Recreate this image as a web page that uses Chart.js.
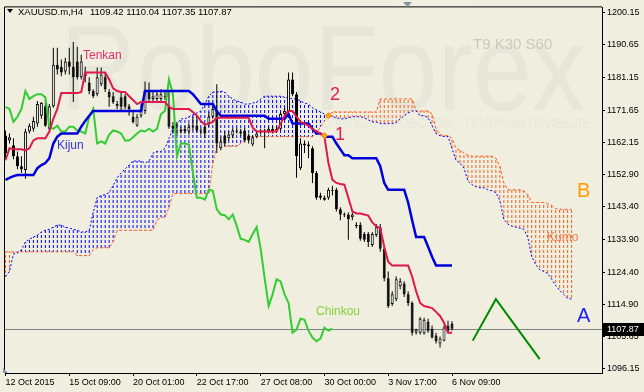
<!DOCTYPE html>
<html>
<head>
<meta charset="utf-8">
<script src="https://cdn.jsdelivr.net/npm/chart.js@4.4.1/dist/chart.umd.min.js"></script>
<style>
html, body { margin: 0; padding: 0; background: #efeedf; }
#wrap { width: 644px; height: 392px; }
</style>
</head>
<body>
<div id="wrap"><canvas id="chart" width="644" height="392"></canvas></div>
<script>
// XAUUSD.m H4, Ichimoku T9 K30 S60
const xTickBars = [0, 16, 32, 48, 64, 80, 96, 112];
const xTickLabels = ['12 Oct 2015', '15 Oct 09:00', '20 Oct 01:00', '22 Oct 17:00', '27 Oct 08:00', '30 Oct 00:00', '3 Nov 17:00', '6 Nov 09:00'];
const yTicks = [1200.15, 1190.65, 1181.15, 1171.65, 1162.15, 1152.90, 1143.40, 1133.90, 1124.40, 1114.90, 1105.65, 1096.15];
const lastPrice = 1107.87;

const opens = [
    1164.2, 1162.8, 1161.4, 1158.2, 1155.3, 1154.2, 1165.4, 1166.2, 1167.7, 1170.0,
    1172.8, 1166.2, 1172.8, 1184.9, 1184.3, 1182.9, 1185.8, 1184.3, 1185.8, 1181.2,
    1182.6, 1179.7, 1177.2, 1176.3, 1179.2, 1181.2, 1176.9, 1175.7, 1172.8, 1175.4,
    1175.7, 1172.8, 1169.7, 1167.1, 1170.0, 1171.4, 1177.2, 1174.9, 1174.9, 1174.9,
    1175.7, 1172.6, 1167.1, 1167.4, 1166.0, 1166.2, 1165.4, 1167.1, 1167.1, 1165.7,
    1166.8, 1167.7, 1169.7, 1171.4, 1160.5, 1164.2, 1163.4, 1164.2, 1165.7, 1165.4,
    1165.7, 1164.2, 1161.6, 1163.9, 1165.1, 1165.7, 1165.4, 1166.2, 1165.7, 1166.2,
    1170.5, 1171.1, 1180.6, 1176.3, 1154.7, 1161.4, 1161.1, 1160.5, 1153.3, 1146.7,
    1146.1, 1146.1, 1148.4, 1148.4, 1142.7, 1141.2, 1141.2, 1140.4, 1138.1, 1138.1,
    1135.5, 1135.5, 1132.3, 1135.2, 1137.5, 1131.2, 1122.6, 1115.1, 1116.5, 1120.3,
    1121.1, 1117.9, 1115.4, 1106.7, 1106.7, 1106.5, 1109.9, 1107.9, 1105.9, 1103.6,
    1104.4, 1108.8, 1109.42
];
const highs = [
    1165.7, 1164.8, 1163.4, 1159.6, 1158.2, 1166.2, 1167.7, 1169.7, 1174.3, 1174.0,
    1175.7, 1173.4, 1189.8, 1189.8, 1186.4, 1186.9, 1189.8, 1191.5, 1190.1, 1187.8,
    1184.3, 1181.2, 1177.7, 1184.1, 1184.1, 1182.6, 1177.7, 1176.9, 1174.3, 1176.9,
    1176.3, 1173.4, 1171.1, 1170.5, 1173.4, 1180.0, 1179.7, 1176.9, 1177.2, 1177.7,
    1176.9, 1176.9, 1168.2, 1168.2, 1166.8, 1167.1, 1167.7, 1169.7, 1170.0, 1166.5,
    1167.7, 1171.1, 1172.8, 1179.2, 1163.7, 1165.4, 1165.4, 1166.5, 1166.5, 1166.2,
    1166.5, 1164.8, 1164.2, 1165.4, 1166.2, 1166.2, 1166.8, 1167.1, 1166.8, 1171.1,
    1172.3, 1182.6, 1182.6, 1176.9, 1163.4, 1162.8, 1162.5, 1161.1, 1153.9, 1147.5,
    1146.7, 1149.0, 1149.6, 1149.0, 1143.3, 1141.8, 1141.8, 1141.8, 1138.9, 1138.9,
    1136.1, 1136.1, 1136.1, 1138.4, 1138.4, 1131.7, 1124.6, 1118.8, 1123.1, 1122.6,
    1121.7, 1118.8, 1115.9, 1107.9, 1111.3, 1111.1, 1110.8, 1108.8, 1106.7, 1105.6,
    1108.8, 1110.2, 1110.04
];
const lows = [
    1157.6, 1161.9, 1157.3, 1154.4, 1153.3, 1151.6, 1164.8, 1165.4, 1166.8, 1169.1,
    1166.8, 1165.7, 1172.3, 1182.0, 1181.5, 1182.0, 1182.0, 1174.0, 1180.6, 1180.6,
    1179.7, 1176.3, 1175.2, 1175.7, 1178.6, 1176.9, 1172.6, 1173.4, 1172.0, 1171.7,
    1172.0, 1170.0, 1167.7, 1166.8, 1169.4, 1170.5, 1174.3, 1174.3, 1174.3, 1174.0,
    1174.6, 1166.2, 1164.8, 1164.2, 1164.8, 1164.8, 1164.5, 1165.7, 1165.1, 1164.5,
    1163.4, 1166.8, 1169.1, 1159.1, 1159.9, 1161.1, 1162.8, 1163.4, 1164.8, 1164.2,
    1162.2, 1161.9, 1161.1, 1163.4, 1164.5, 1160.5, 1164.8, 1164.8, 1165.1, 1165.7,
    1170.0, 1170.5, 1175.7, 1151.9, 1154.2, 1159.1, 1157.6, 1150.4, 1145.5, 1145.5,
    1145.2, 1145.5, 1146.7, 1142.1, 1139.5, 1140.4, 1133.8, 1139.5, 1137.2, 1133.5,
    1133.2, 1131.7, 1131.7, 1134.6, 1130.3, 1121.7, 1113.9, 1114.5, 1115.9, 1119.4,
    1117.1, 1114.5, 1105.9, 1106.2, 1106.2, 1106.2, 1106.7, 1105.0, 1103.6, 1102.4,
    1104.2, 1106.7, 1107.35
];
const closes = [
    1159.1, 1163.7, 1158.2, 1155.3, 1154.4, 1165.4, 1167.1, 1168.5, 1173.4, 1173.7,
    1167.1, 1172.8, 1184.9, 1183.5, 1182.6, 1185.8, 1184.3, 1181.2, 1181.2, 1185.8,
    1181.5, 1177.2, 1175.7, 1181.2, 1182.0, 1177.7, 1175.4, 1174.0, 1173.4, 1172.6,
    1172.6, 1172.0, 1168.2, 1169.7, 1172.0, 1177.2, 1174.9, 1175.7, 1176.3, 1176.3,
    1175.4, 1166.8, 1166.2, 1167.1, 1165.4, 1165.4, 1166.8, 1166.8, 1165.7, 1165.4,
    1164.8, 1169.7, 1172.0, 1161.9, 1162.5, 1161.9, 1164.5, 1165.7, 1165.4, 1164.8,
    1162.8, 1162.8, 1163.7, 1164.8, 1165.7, 1165.4, 1166.2, 1165.4, 1166.2, 1170.5,
    1171.4, 1180.6, 1176.3, 1158.2, 1161.9, 1161.9, 1161.6, 1153.3, 1146.1, 1146.1,
    1145.5, 1148.4, 1148.1, 1142.7, 1141.2, 1141.0, 1139.8, 1141.2, 1137.8, 1134.1,
    1133.8, 1133.2, 1135.5, 1137.5, 1131.2, 1122.6, 1114.5, 1117.9, 1122.3, 1121.7,
    1117.9, 1115.4, 1106.7, 1107.6, 1110.8, 1110.5, 1107.3, 1105.3, 1104.2, 1105.0,
    1108.2, 1107.3, 1107.87
];

const tenkan = [
    1157.0, 1160.5, 1160.2, 1160.2, 1160.2, 1159.9, 1160.5, 1162.8, 1163.4, 1163.4,
    1163.4, 1165.4, 1169.1, 1172.0, 1176.6, 1176.6, 1176.6, 1176.6, 1176.6, 1176.9,
    1182.6, 1182.6, 1182.6, 1182.6, 1182.6, 1182.6, 1180.6, 1178.0, 1177.2, 1176.9,
    1176.9, 1175.7, 1174.6, 1173.4, 1174.0, 1174.0, 1174.0, 1174.0, 1174.0, 1174.0,
    1174.0, 1172.6, 1172.0, 1172.0, 1172.0, 1172.0, 1172.0, 1171.1, 1170.0, 1168.5,
    1167.4, 1167.7, 1168.2, 1169.4, 1169.4, 1169.4, 1169.4, 1169.4, 1169.4, 1169.4,
    1169.4, 1169.4, 1166.5, 1165.4, 1165.4, 1165.4, 1165.4, 1165.4, 1165.4, 1167.7,
    1170.0, 1171.4, 1171.4, 1169.7, 1168.2, 1167.7, 1167.1, 1166.2, 1165.4, 1164.8,
    1163.9, 1156.2, 1151.3, 1150.4, 1150.1, 1149.9, 1146.1, 1142.1, 1141.5, 1141.5,
    1141.2, 1140.9, 1138.9, 1137.8, 1137.2, 1131.8, 1127.4, 1126.3, 1126.3, 1126.3,
    1126.3, 1126.3, 1123.1, 1118.8, 1115.4, 1114.5, 1114.2, 1113.9, 1112.8, 1111.6,
    1109.6, 1106.7, 1106.7
];
const kijun = [
    1151.3, 1151.9, 1152.4, 1152.7, 1152.7, 1152.7, 1152.7, 1152.7, 1154.7, 1155.6,
    1156.2, 1157.6, 1161.9, 1163.9, 1164.8, 1164.8, 1164.8, 1164.8, 1164.8, 1166.8,
    1168.5, 1170.0, 1171.4, 1171.4, 1171.4, 1171.4, 1171.4, 1171.4, 1171.4, 1171.4,
    1171.4, 1171.4, 1171.4, 1171.4, 1171.4, 1177.2, 1177.2, 1177.2, 1177.2, 1177.2,
    1177.2, 1177.2, 1177.2, 1177.2, 1177.2, 1177.2, 1177.2, 1176.3, 1174.9, 1173.4,
    1173.4, 1173.4, 1173.4, 1171.4, 1170.0, 1170.0, 1170.0, 1170.0, 1170.0, 1170.0,
    1170.0, 1170.0, 1170.0, 1170.0, 1170.0, 1170.0, 1169.1, 1169.1, 1169.1, 1169.1,
    1169.1, 1170.5, 1167.7, 1167.7, 1167.7, 1167.7, 1167.7, 1166.2, 1164.8, 1164.8,
    1163.9, 1163.9, 1163.9, 1161.9, 1160.2, 1158.5, 1158.5, 1157.6, 1157.6, 1157.6,
    1157.6, 1157.6, 1157.6, 1157.6, 1155.3, 1150.4, 1148.4, 1148.4, 1148.4, 1148.4,
    1148.4, 1144.7, 1139.5, 1134.6, 1134.6, 1134.6, 1131.8, 1128.9, 1126.3, 1126.3,
    1126.3, 1126.3, 1126.3
];
const spanA = [
    1123.1, 1124.6, 1129.7, 1130.0, 1130.9, 1133.2, 1134.0, 1134.6, 1135.2, 1136.1,
    1136.6, 1136.9, 1137.5, 1138.1, 1138.1, 1137.5, 1137.2, 1136.9, 1136.6, 1136.1,
    1136.1, 1136.6, 1141.8, 1146.1, 1146.7, 1147.0, 1147.6, 1149.6, 1151.9, 1153.3,
    1154.5, 1155.6, 1156.8, 1156.8, 1156.8, 1156.2, 1156.8, 1159.1, 1159.6, 1159.6,
    1160.5, 1163.4, 1166.2, 1167.7, 1169.1, 1169.1, 1169.7, 1170.3, 1170.8, 1171.4,
    1173.4, 1175.7, 1176.9, 1176.9, 1177.2, 1176.9, 1175.7, 1174.9, 1174.3, 1174.0,
    1173.4, 1173.4, 1173.7, 1174.0, 1174.9, 1175.7, 1175.7, 1175.7, 1175.7, 1175.7,
    1175.4, 1175.2, 1174.9, 1174.9, 1174.3, 1173.7, 1173.4, 1172.3, 1171.7, 1171.1,
    1170.5, 1170.0, 1169.7, 1169.4, 1169.1, 1169.1, 1169.4, 1169.7, 1169.7, 1169.7,
    1169.4, 1168.8, 1168.2, 1168.2, 1167.7, 1167.7, 1167.7, 1167.7, 1168.0, 1169.1,
    1170.0, 1170.8, 1171.4, 1171.4, 1170.0, 1170.0, 1169.4, 1167.1, 1164.8, 1164.2,
    1163.9, 1163.9, 1160.5, 1157.0, 1156.2, 1154.7, 1151.0, 1149.9, 1149.3, 1149.0,
    1149.0, 1148.4, 1148.1, 1147.6, 1145.3, 1139.8, 1138.4, 1137.8, 1137.5, 1137.2,
    1136.9, 1134.6, 1128.9, 1126.6, 1125.1, 1124.6, 1124.0, 1122.3, 1120.5, 1119.1,
    1117.9, 1116.8, 1116.5
];
const spanB = [
    1130.3, 1130.3, 1130.3, 1130.3, 1130.3, 1130.3, 1130.3, 1130.3, 1130.3, 1130.3,
    1130.3, 1130.3, 1130.3, 1130.3, 1130.3, 1130.3, 1130.3, 1130.3, 1129.2, 1129.2,
    1129.2, 1129.2, 1130.9, 1131.5, 1131.5, 1131.5, 1131.5, 1133.2, 1136.6, 1136.6,
    1136.6, 1136.6, 1136.6, 1136.6, 1136.6, 1136.6, 1136.6, 1136.6, 1139.5, 1140.4,
    1140.4, 1143.2, 1147.3, 1147.3, 1147.3, 1147.3, 1147.3, 1147.3, 1147.3, 1147.3,
    1147.3, 1147.3, 1156.2, 1161.1, 1161.1, 1161.1, 1161.1, 1161.1, 1161.1, 1161.9,
    1162.8, 1163.9, 1163.9, 1163.9, 1163.9, 1163.9, 1163.9, 1163.9, 1163.9, 1163.9,
    1163.9, 1163.9, 1163.9, 1163.9, 1163.9, 1163.9, 1163.9, 1163.9, 1164.8, 1166.8,
    1168.5, 1170.0, 1171.1, 1171.1, 1171.1, 1171.1, 1171.1, 1171.1, 1171.1, 1171.1,
    1171.1, 1171.1, 1171.1, 1171.1, 1174.9, 1174.9, 1174.9, 1174.9, 1174.9, 1174.9,
    1174.9, 1174.9, 1174.9, 1171.4, 1171.4, 1171.4, 1171.4, 1170.5, 1166.2, 1164.5,
    1164.2, 1164.2, 1163.4, 1160.5, 1159.9, 1159.1, 1158.5, 1158.2, 1158.2, 1158.2,
    1158.2, 1158.2, 1158.2, 1157.6, 1155.3, 1150.4, 1148.4, 1148.4, 1148.4, 1148.4,
    1148.1, 1147.0, 1144.7, 1144.7, 1144.7, 1144.7, 1144.4, 1143.8, 1142.9, 1142.7,
    1142.7, 1142.7, 1142.7
];

// signal points (1 = Tenkan/Kijun cross, 2 = cloud twist) and hand drawn forecast
const signalBars = [80, 81];
const signalPrices = [1164.2, 1170.0];
const forecastBars = [117.2, 123, 134];
const forecastPrices = [1104.4, 1116.5, 1099.0];

const chinkouShift = 30;

const canvas = document.getElementById('chart');
const ctx = canvas.getContext('2d');

function makeHatch(color, on, off) {
    const c = document.createElement('canvas');
    c.width = 1;
    c.height = on + off;
    const g = c.getContext('2d');
    g.fillStyle = color;
    g.fillRect(0, 0, 1, on);
    return ctx.createPattern(c, 'repeat');
}
const blueHatch = makeHatch('#0000ff', 3, 2);
const orangeHatch = makeHatch('#ff5a1e', 3, 2);

const pts = arr => arr.map((v, i) => ({ x: i, y: v }));
const chinkou = closes.slice(chinkouShift).map((v, i) => ({ x: i, y: v }));

const mt4Plugin = {
    id: 'mt4',
    beforeDraw(chart) {
        const c = chart.ctx;
        c.save();
        c.fillStyle = '#efeedf';
        c.fillRect(0, 0, chart.width, chart.height);
        c.restore();
    },
    beforeDatasetsDraw(chart) {
        const c = chart.ctx;
        const a = chart.chartArea;
        c.save();
        c.beginPath();
        c.rect(a.left, a.top, a.right - a.left, a.bottom - a.top);
        c.clip();
        c.fillStyle = '#e6e6d9';
        c.font = '120px "Liberation Sans", Arial, sans-serif';
        c.textBaseline = 'alphabetic';
        c.fillText('RoboForex', 60, 110, 525);
        c.font = '14px "Liberation Sans", Arial, sans-serif';
        c.fillStyle = '#e7e7da';
        c.fillText('ИСПОЛЬЗУЙ РОБОТОВ – ПОЛУЧАЙ ПРИБЫЛЬ', 312, 128, 278);
        c.font = '15px "Liberation Sans", Arial, sans-serif';
        c.fillStyle = '#cdc7c0';
        c.fillText('T9 K30 S60', 473, 49);
        // last price line
        const y = Math.round(chart.scales.y.getPixelForValue(lastPrice)) + 0.5;
        c.strokeStyle = '#808080';
        c.lineWidth = 1;
        c.beginPath();
        c.moveTo(a.left, y);
        c.lineTo(a.right, y);
        c.stroke();
        c.restore();
    },
    afterDatasetsDraw(chart) {
        const c = chart.ctx;
        c.save();
        c.textBaseline = 'alphabetic';
        const label = (txt, x, y, color, size) => {
            c.font = size + 'px "Liberation Sans", Arial, sans-serif';
            c.fillStyle = color;
            c.fillText(txt, x, y);
        };
        label('Tenkan', 83, 59, '#e4306a', 12);
        label('Kijun', 57, 149, '#3a34e0', 12);
        label('Chinkou', 316, 315, '#8ad040', 12);
        label('Kumo', 547, 241, '#f08050', 12);
        label('B', 577, 197, '#ff9c00', 20);
        label('A', 577, 322, '#2020f0', 20);
        label('1', 335, 140, '#e02050', 18);
        label('2', 330, 100, '#e02050', 18);
        c.restore();
    },
    afterDraw(chart) {
        const c = chart.ctx;
        const a = chart.chartArea;
        c.save();
        c.strokeStyle = '#000';
        c.lineWidth = 1;
        c.beginPath();
        c.moveTo(a.left - 0.5, a.bottom);
        c.lineTo(a.left - 0.5, a.top - 0.5);
        c.lineTo(a.right, a.top - 0.5);
        c.stroke();
        // header
        c.fillStyle = '#000';
        c.beginPath();
        c.moveTo(7, 9);
        c.lineTo(13, 9);
        c.lineTo(10, 13);
        c.closePath();
        c.fill();
        c.font = '9.5px "Liberation Sans", Arial, sans-serif';
        c.fillText('XAUUSD.m,H4', 18, 15);
        c.fillText('1109.42 1110.04 1107.35 1107.87', 90, 15);
        // shift markers
        c.fillStyle = '#8594a4';
        c.beginPath();
        c.moveTo(403, 2);
        c.lineTo(412, 2);
        c.lineTo(407.5, 7);
        c.closePath();
        c.fill();
        c.beginPath();
        c.moveTo(3, 368);
        c.lineTo(8, 373);
        c.lineTo(3, 373);
        c.closePath();
        c.fill();
        // price box
        const y = Math.round(chart.scales.y.getPixelForValue(lastPrice));
        c.fillStyle = '#000';
        c.fillRect(603, y - 6, 41, 13);
        c.fillStyle = '#fff';
        c.font = '9px "Liberation Sans", Arial, sans-serif';
        c.textBaseline = 'middle';
        c.fillText(lastPrice.toFixed(2), 607, y + 0.5);
        c.restore();
    }
};

const tickFont = { family: '"Liberation Sans", Arial, sans-serif', size: 9 };

new Chart(canvas, {
    type: 'bar',
    data: {
        datasets: [
            {
                type: 'line',
                data: forecastBars.map((b, i) => ({ x: b, y: forecastPrices[i] })),
                borderColor: '#008a00',
                borderWidth: 2,
                pointRadius: 0,
                order: 0
            },
            {
                type: 'line',
                data: signalBars.map((b, i) => ({ x: b, y: signalPrices[i] })),
                showLine: false,
                pointStyle: 'rectRot',
                pointRadius: 3,
                backgroundColor: '#ffa020',
                borderColor: '#ff8a00',
                borderWidth: 1,
                order: 0
            },
            {
                type: 'line',
                data: pts(tenkan),
                borderColor: '#e0184c',
                borderWidth: 2,
                pointRadius: 0,
                order: 1
            },
            {
                type: 'line',
                data: pts(kijun),
                borderColor: '#0000dd',
                borderWidth: 2.5,
                pointRadius: 0,
                order: 2
            },
            {
                type: 'line',
                data: chinkou,
                borderColor: '#33cc33',
                borderWidth: 2,
                pointRadius: 0,
                order: 3
            },
            {
                type: 'bar',
                data: opens.map((o, i) => ({ x: i, y: [o, closes[i]] })),
                backgroundColor: opens.map((o, i) => closes[i] >= o ? '#ffffff' : '#000000'),
                borderColor: '#000',
                borderWidth: 1,
                borderSkipped: false,
                inflateAmount: 0,
                barThickness: 3,
                minBarLength: 1,
                grouped: false,
                order: 5
            },
            {
                type: 'bar',
                data: highs.map((h, i) => ({ x: i, y: [lows[i], h] })),
                backgroundColor: '#000',
                borderWidth: 0,
                inflateAmount: 0,
                barThickness: 1,
                grouped: false,
                order: 6
            },
            {
                type: 'line',
                data: pts(spanA),
                borderColor: '#0000ff',
                borderWidth: 1,
                borderDash: [2, 2],
                pointRadius: 0,
                order: 8
            },
            {
                type: 'line',
                data: pts(spanB),
                borderColor: '#ff5a1e',
                borderWidth: 1,
                borderDash: [3, 2],
                pointRadius: 0,
                order: 8
            },
            {
                type: 'bar',
                data: spanA.map((v, i) => ({ x: i, y: [v, spanB[i]] })),
                backgroundColor: spanA.map((v, i) => v >= spanB[i] ? blueHatch : orangeHatch),
                borderWidth: 0,
                inflateAmount: 0,
                barThickness: 1,
                grouped: false,
                order: 10
            }
        ]
    },
    options: {
        responsive: false,
        animation: false,
        events: [],
        layout: { padding: { left: 3, top: 2, right: 0, bottom: 0 } },
        plugins: { legend: { display: false }, tooltip: { enabled: false } },
        scales: {
            x: {
                type: 'linear',
                position: 'bottom',
                min: -0.125,
                max: 149.625,
                offset: false,
                afterBuildTicks: s => { s.ticks = xTickBars.map(v => ({ value: v })); },
                afterFit: s => { s.height = 19; },
                ticks: {
                    autoSkip: false,
                    maxRotation: 0,
                    align: 'start',
                    padding: 1,
                    color: '#000',
                    font: tickFont,
                    callback: (v, i) => xTickLabels[i]
                },
                grid: { offset: false, drawOnChartArea: false, tickLength: 3, color: '#000' },
                border: { color: '#000', width: 1 }
            },
            y: {
                position: 'right',
                min: 1094.96,
                max: 1201.6,
                afterBuildTicks: s => { s.ticks = yTicks.map(v => ({ value: v })); },
                afterFit: s => { s.width = 42; },
                ticks: {
                    padding: 2,
                    color: '#000',
                    font: tickFont,
                    callback: v => v.toFixed(2)
                },
                grid: { drawOnChartArea: false, tickLength: 3, color: '#000' },
                border: { color: '#000', width: 1 }
            }
        }
    },
    plugins: [mt4Plugin]
});
</script>
</body>
</html>
